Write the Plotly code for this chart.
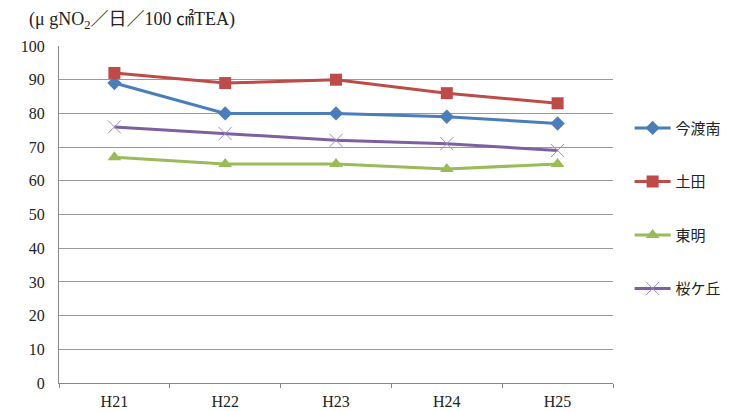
import plotly.graph_objects as go

years = ["H21", "H22", "H23", "H24", "H25"]
imadominami = [89, 80, 80, 79, 77]
tsuchida = [92, 89, 90, 86, 83]
tomei = [67, 65, 65, 63.5, 65]
sakuragaoka = [76, 74, 72, 71, 69]

series = [
    ("今渡南", imadominami, "#4A7EBB", dict(symbol="diamond", size=11)),
    ("土田", tsuchida, "#BE4B48", dict(symbol="square", size=12)),
    ("東明", tomei, "#9BBB59", dict(symbol="triangle-up", size=12)),
    ("桜ケ丘", sakuragaoka, "#7D60A0",
     dict(symbol="x-thin", size=13, line=dict(width=1, color="#A08CC0"))),
]

font_family = "Liberation Serif, Noto Sans CJK JP, serif"

fig = go.Figure()
for i, (name, vals, color, marker) in enumerate(series):
    m = dict(marker)
    m["color"] = color
    fig.add_trace(go.Scatter(
        x=years, y=vals, name=name, mode="lines+markers",
        line=dict(color=color, width=3),
        marker=m, legendgroup=f"g{i}",
    ))

fig.update_layout(
    width=739, height=411,
    margin=dict(l=59, r=124, t=46, b=28),
    paper_bgcolor="white", plot_bgcolor="white",
    font=dict(family=font_family, size=16, color="#222"),
    showlegend=True,
    legend=dict(
        x=1.03, y=0.805, xanchor="left", yanchor="top",
        font=dict(family="Noto Sans CJK JP", size=15, color="#222"),
        tracegroupgap=31, itemwidth=36,
    ),
    xaxis=dict(
        range=[-0.5, 4.5], automargin=False,
        showline=True, linecolor="#888", linewidth=1,
        ticks="outside", tickson="boundaries", ticklen=4, tickcolor="#888",
        showgrid=False, ticklabelstandoff=4,
    ),
    yaxis=dict(
        range=[0, 100], dtick=10, showline=True, linecolor="#888",
        showgrid=True, gridcolor="#999", gridwidth=1, ticks="",
        zeroline=False, automargin=False, ticklabelstandoff=10,
    ),
    annotations=[dict(
        text="(μ gNO<sub>2</sub>／日／100 ㎠TEA)",
        xref="paper", yref="paper", x=-0.057, y=1.035,
        xanchor="left", yanchor="bottom", showarrow=False,
        font=dict(family=font_family, size=18, color="#222"),
    )],
)

fig.write_html("out.html")
